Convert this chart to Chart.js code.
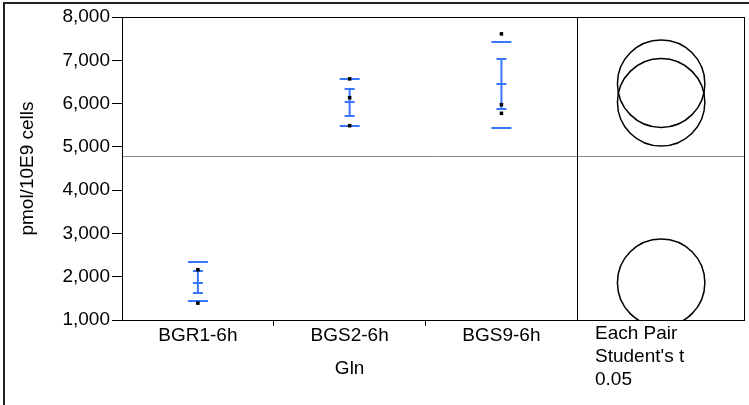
<!DOCTYPE html>
<html>
<head>
<meta charset="utf-8">
<script src="https://cdn.jsdelivr.net/npm/chart.js@4.4.1/dist/chart.umd.min.js"></script>
<style>
    html, body { margin: 0; padding: 0; background: #fff; }
    #wrap { width: 749px; height: 405px; }
</style>
</head>
<body>
<div id="wrap"><canvas id="oneway" width="749" height="405"></canvas></div>
<script>
// values
const groups = ['BGR1-6h', 'BGS2-6h', 'BGS9-6h'];
const observations = [
    [2160, 1390],
    [6570, 6135, 5490],
    [7610, 5975, 5775]
];
const means = [1862, 6029, 6459];
const stdDevLow = [1440, 5488, 5442];
const stdDevHigh = [2333, 6567, 7429];
const stdErrLow = [1631, 5719, 5874];
const stdErrHigh = [2139, 6336, 7036];
const grandMean = 4790;
const circleRadius = 1010;
const yTicks = [1000, 2000, 3000, 4000, 5000, 6000, 7000, 8000];
const xTitle = 'Gln';
const yTitle = 'pmol/10E9 cells';
const testLabel = ['Each Pair', "Student's t", '0.05'];

const FONT = { family: '"Liberation Sans", Arial, sans-serif', size: 19 };
const BLUE = 'rgb(56, 118, 255)';
const X_MAX = 4.105; // groups take 0..3, the rest is the circles panel

const points = [];
observations.forEach(function (vals, i) {
    vals.forEach(function (v) {
        points.push({ x: i + 0.5, y: v });
    });
});

const onewayPlugin = {
    id: 'oneway',
    beforeDatasetsDraw: function (chart) {
        const ctx = chart.ctx;
        const x = chart.scales.x;
        const y = chart.scales.y;
        const a = chart.chartArea;
        ctx.save();
        // grand mean
        ctx.strokeStyle = '#8a8a8a';
        ctx.lineWidth = 1;
        const gy = Math.round(y.getPixelForValue(grandMean)) + 0.5;
        ctx.beginPath();
        ctx.moveTo(a.left, gy);
        ctx.lineTo(a.right, gy);
        ctx.stroke();

        // std dev lines and std error bars
        ctx.strokeStyle = BLUE;
        ctx.lineWidth = 2;
        groups.forEach(function (g, i) {
            const cx = x.getPixelForValue(i + 0.5);
            const hl = function (v, half) {
                const py = Math.round(y.getPixelForValue(v));
                ctx.beginPath();
                ctx.moveTo(cx - half, py);
                ctx.lineTo(cx + half, py);
                ctx.stroke();
            };
            hl(stdDevLow[i], 10);
            hl(stdDevHigh[i], 10);
            hl(stdErrLow[i], 5);
            hl(stdErrHigh[i], 5);
            hl(means[i], 5);
            ctx.beginPath();
            ctx.moveTo(cx, y.getPixelForValue(stdErrLow[i]));
            ctx.lineTo(cx, y.getPixelForValue(stdErrHigh[i]));
            ctx.stroke();
        });

        // comparison circles
        const ccx = x.getPixelForValue((3 + X_MAX) / 2);
        ctx.save();
        ctx.beginPath();
        ctx.rect(x.getPixelForValue(3), a.top, a.right - x.getPixelForValue(3), a.bottom - a.top);
        ctx.clip();
        ctx.strokeStyle = '#000';
        ctx.lineWidth = 1.5;
        means.forEach(function (m) {
            const cy = y.getPixelForValue(m);
            const r = y.getPixelForValue(m - circleRadius) - cy;
            ctx.beginPath();
            ctx.arc(ccx, cy, r, 0, Math.PI * 2);
            ctx.stroke();
        });
        ctx.restore();
        ctx.restore();
    },
    afterDraw: function (chart) {
        const ctx = chart.ctx;
        const x = chart.scales.x;
        const a = chart.chartArea;
        ctx.save();
        // plot frame and divider
        ctx.strokeStyle = '#000';
        ctx.lineWidth = 1;
        ctx.strokeRect(a.left + 0.5, a.top + 0.5, a.right - a.left - 1, a.bottom - a.top);
        const dx = Math.round(x.getPixelForValue(3)) + 0.5;
        ctx.beginPath();
        ctx.moveTo(dx, a.top);
        ctx.lineTo(dx, a.bottom);
        ctx.stroke();
        // outer report frame
        ctx.strokeStyle = '#222';
        ctx.lineWidth = 2;
        ctx.beginPath();
        ctx.moveTo(4, 405);
        ctx.lineTo(4, 3);
        ctx.lineTo(749, 3);
        ctx.stroke();
        // texts
        ctx.fillStyle = '#000';
        ctx.font = FONT.size + 'px ' + FONT.family;
        ctx.textAlign = 'center';
        ctx.textBaseline = 'alphabetic';
        ctx.fillText(xTitle, x.getPixelForValue(1.5), 374);
        ctx.textAlign = 'left';
        testLabel.forEach(function (t, i) {
            ctx.fillText(t, 595, 339 + i * 23);
        });
        ctx.restore();
    }
};

new Chart(document.getElementById('oneway'), {
    type: 'scatter',
    data: {
        datasets: [{
            data: points,
            pointStyle: 'rect',
            radius: 2.5,
            backgroundColor: '#000',
            borderColor: '#000',
            borderWidth: 0
        }]
    },
    options: {
        responsive: false,
        animation: false,
        layout: { padding: { left: 0, top: 17, right: 3, bottom: 0 } },
        plugins: {
            legend: { display: false },
            tooltip: { enabled: false }
        },
        scales: {
            x: {
                type: 'linear',
                min: 0,
                max: X_MAX,
                afterBuildTicks: function (s) {
                    s.ticks = [0.5, 1, 1.5, 2, 2.5].map(function (v) { return { value: v }; });
                },
                afterFit: function (s) { s.height = 85; },
                ticks: {
                    autoSkip: false,
                    maxRotation: 0,
                    color: '#000',
                    font: FONT,
                    padding: -2,
                    callback: function (v) {
                        return Number.isInteger(v) ? '' : groups[Math.floor(v)];
                    }
                },
                grid: {
                    drawOnChartArea: false,
                    drawTicks: true,
                    tickLength: 6,
                    tickWidth: 1,
                    tickColor: function (c) {
                        return c.tick && Number.isInteger(c.tick.value) ? '#000' : 'rgba(0,0,0,0)';
                    }
                },
                border: { display: false }
            },
            y: {
                min: 1000,
                max: 8000,
                afterBuildTicks: function (s) {
                    s.ticks = yTicks.map(function (v) { return { value: v }; });
                },
                afterFit: function (s) { s.width = 122; },
                ticks: {
                    color: '#000',
                    font: FONT,
                    padding: 2,
                    callback: function (v) { return v.toLocaleString('en-US'); }
                },
                grid: {
                    drawOnChartArea: false,
                    drawTicks: true,
                    tickLength: 10,
                    tickColor: '#000'
                },
                border: { display: false },
                title: {
                    display: true,
                    text: yTitle,
                    color: '#000',
                    font: FONT,
                    padding: { top: 16, bottom: 0 }
                }
            }
        }
    },
    plugins: [onewayPlugin]
});
</script>
</body>
</html>
